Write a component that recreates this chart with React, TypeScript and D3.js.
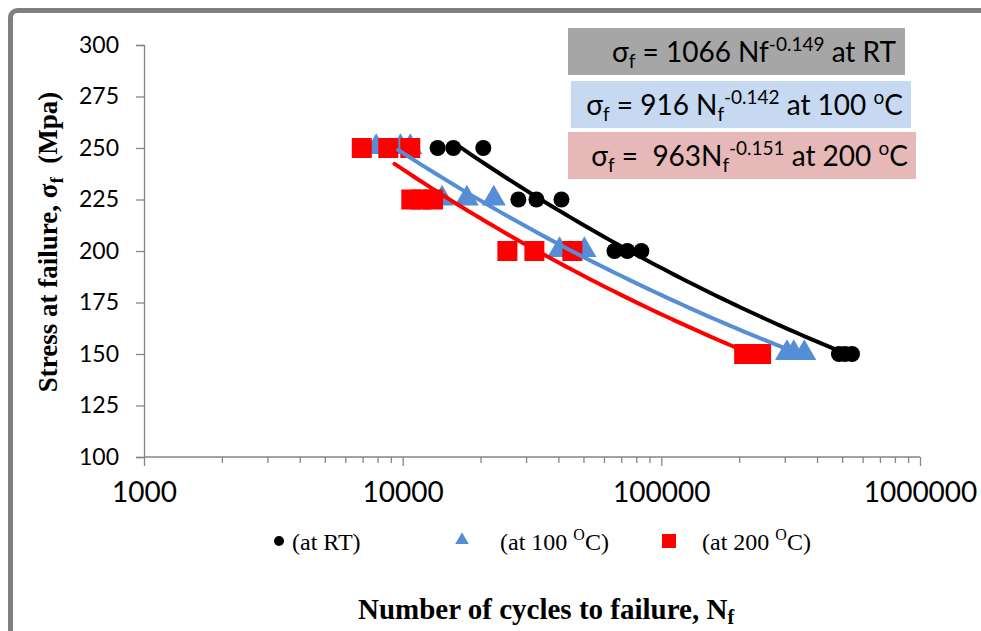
import * as d3 from 'd3';
import React, { useEffect, useRef } from 'react';

// stress levels (MPa) and cycles to failure
const rtStress = [250, 250, 250, 225, 225, 225, 200, 200, 200, 150, 150, 150];
const rtCycles = [13650, 15700, 20500, 28000, 32900, 41100, 65900, 73900, 83700, 486000, 513000, 546000];

const c100Stress = [250, 250, 250, 225, 225, 225, 200, 200, 150, 150, 150];
const c100Cycles = [7900, 9800, 10700, 14200, 17700, 22500, 40400, 50400, 306000, 325000, 357000];

const c200Stress = [250, 250, 250, 225, 225, 225, 200, 200, 200, 150, 150, 150];
const c200Cycles = [6950, 8800, 10700, 10800, 11800, 13100, 25400, 32300, 45300, 209000, 223000, 243000];

// power-law fits shown in the boxes: sigma = A * N^b, drawn over [from, to]
const fits = [
  { name: 'RT', A: 1066, b: -0.149, from: 16800, to: 546000, color: '#000000' },
  { name: '100', A: 916, b: -0.142, from: 9600, to: 357000, color: '#558ED5' },
  { name: '200', A: 963, b: -0.151, from: 9300, to: 243000, color: '#FF0000' },
];

const yTicks = [100, 125, 150, 175, 200, 225, 250, 275, 300];
const xMajor = [1000, 10000, 100000, 1000000];

export default function App() {
  const yAxisRef = useRef<SVGGElement>(null);
  const xMinorRef = useRef<SVGGElement>(null);
  const xMajorRef = useRef<SVGGElement>(null);

  const x = d3.scaleLog().domain([1000, 1000000]).range([144, 920]);
  const y = d3.scaleLinear().domain([100, 300]).range([457, 45]);

  useEffect(() => {
    document.body.style.margin = '0';
    const axisColor = '#868686';

    const ya = d3.select(yAxisRef.current!);
    ya.call(d3.axisLeft(y).tickValues(yTicks).tickSize(8).tickPadding(17).tickFormat(d3.format('d')) as any);
    ya.select('.domain').attr('stroke', axisColor).attr('stroke-width', 1.3);
    ya.selectAll('.tick line').attr('stroke', axisColor).attr('stroke-width', 1.3);
    ya.selectAll('.tick text')
      .attr('font-family', 'Lato, sans-serif')
      .attr('font-size', 23)
      .attr('fill', '#000');

    const minor: number[] = [];
    for (const dec of [1000, 10000, 100000]) {
      for (let k = 2; k <= 9; k++) minor.push(dec * k);
    }
    const xm = d3.select(xMinorRef.current!);
    xm.call(d3.axisBottom(x).tickValues(minor).tickSize(6).tickFormat(() => '') as any);
    xm.select('.domain').remove();
    xm.selectAll('.tick line').attr('stroke', axisColor).attr('stroke-width', 1.3);

    const xa = d3.select(xMajorRef.current!);
    xa.call(d3.axisBottom(x).tickValues(xMajor).tickSize(9).tickPadding(16).tickFormat(d3.format('d')) as any);
    xa.select('.domain').attr('stroke', axisColor).attr('stroke-width', 1.3).attr('d', `M${x(1000)},0H${x(1000000)}`);
    xa.selectAll('.tick line').attr('stroke', axisColor).attr('stroke-width', 1.3);
    xa.selectAll('.tick text')
      .attr('font-family', 'Lato, sans-serif')
      .attr('font-size', 28)
      .attr('fill', '#000');
  }, []);

  const fitPath = (f: typeof fits[number]) => {
    const ns = d3.range(0, 61).map(i => f.from * Math.pow(f.to / f.from, i / 60));
    return d3.line<number>()
      .x(n => x(n))
      .y(n => y(f.A * Math.pow(n, f.b)))(ns) || '';
  };

  const tri = d3.symbol().type(d3.symbolTriangle).size(250)() || '';
  const triSmall = d3.symbol().type(d3.symbolTriangle).size(80)() || '';
  const sq = 20;

  const eqFont = 'Lato, "Open Sans", sans-serif';
  const serif = '"Liberation Serif", "Times New Roman", serif';

  return (
    <svg width={981} height={631} style={{ display: 'block', background: '#fff' }}>
      {/* outer frame */}
      <rect x={10.5} y={10.5} width={1000} height={700} rx={7} fill="none" stroke="#808080" strokeWidth={5} />

      <g ref={yAxisRef} transform={`translate(${x(1000)},0)`} />
      <g ref={xMinorRef} transform={`translate(0,${y(100)})`} />
      <g ref={xMajorRef} transform={`translate(0,${y(100)})`} />

      {/* markers */}
      {rtCycles.map((n, i) => (
        <circle key={'rt' + i} cx={x(n)} cy={y(rtStress[i])} r={8} fill="#000" />
      ))}
      {c100Cycles.map((n, i) => (
        <path key={'c1' + i} d={tri} transform={`translate(${x(n)},${y(c100Stress[i]) - 1})`} fill="#558ED5" />
      ))}
      {c200Cycles.map((n, i) => (
        <rect key={'c2' + i} x={x(n) - sq / 2} y={y(c200Stress[i]) - sq / 2} width={sq} height={sq} fill="#FF0000" />
      ))}

      {/* trend lines */}
      {fits.map(f => (
        <path key={f.name} d={fitPath(f)} fill="none" stroke={f.color} strokeWidth={4} strokeLinecap="round" />
      ))}

      {/* equation boxes */}
      <rect x={568} y={28} width={337} height={47} fill="#A6A6A6" />
      <text x={896} y={62} textAnchor="end" fontFamily={eqFont} fontSize={28} fill="#000">
        σ<tspan fontSize={19} dy={6}>f</tspan>
        <tspan dy={-6}> = 1066 Nf</tspan>
        <tspan fontSize={19} dy={-11}>-0.149</tspan>
        <tspan dy={11}> at RT</tspan>
      </text>
      <rect x={571} y={81} width={340} height={47} fill="#C6D9F1" />
      <text x={903} y={115} textAnchor="end" fontFamily={eqFont} fontSize={28} fill="#000">
        σ<tspan fontSize={19} dy={6}>f</tspan>
        <tspan dy={-6}> = 916 N</tspan>
        <tspan fontSize={19} dy={6}>f</tspan>
        <tspan fontSize={19} dy={-17}>-0.142</tspan>
        <tspan dy={11}> at 100 </tspan>
        <tspan fontSize={19} dy={-11}>o</tspan>
        <tspan dy={11}>C</tspan>
      </text>
      <rect x={568} y={132} width={348} height={47} fill="#E6B9B8" />
      <text x={908} y={166} textAnchor="end" fontFamily={eqFont} fontSize={28} fill="#000" style={{ whiteSpace: 'pre' }}>
        σ<tspan fontSize={19} dy={6}>f</tspan>
        <tspan dy={-6}>{' =  963N'}</tspan>
        <tspan fontSize={19} dy={6}>f</tspan>
        <tspan fontSize={19} dy={-17}>-0.151</tspan>
        <tspan dy={11}> at 200 </tspan>
        <tspan fontSize={19} dy={-11}>o</tspan>
        <tspan dy={11}>C</tspan>
      </text>

      {/* legend */}
      <circle cx={279} cy={541} r={5} fill="#000" />
      <text x={292} y={550} fontFamily={serif} fontSize={24} fill="#000">(at RT)</text>
      <path d={triSmall} transform="translate(462,540)" fill="#558ED5" />
      <text x={500} y={550} fontFamily={serif} fontSize={24} fill="#000">
        (at 100 <tspan fontSize={16} dy={-10}>O</tspan><tspan dy={10}>C)</tspan>
      </text>
      <rect x={662} y={534} width={14} height={14} fill="#FF0000" />
      <text x={702} y={550} fontFamily={serif} fontSize={24} fill="#000">
        (at 200 <tspan fontSize={16} dy={-10}>O</tspan><tspan dy={10}>C)</tspan>
      </text>

      {/* axis titles */}
      <text x={546} y={619} textAnchor="middle" fontFamily={serif} fontWeight="bold" fontSize={29} fill="#000">
        Number of cycles to failure, N<tspan fontSize={20} dy={5}>f</tspan>
      </text>
      <text transform="translate(57,242) rotate(-90)" textAnchor="middle" fontFamily={serif} fontWeight="bold" fontSize={27} fill="#000" style={{ whiteSpace: 'pre' }}>
        {'Stress at failure, σ'}<tspan fontSize={19} dy={6}>f</tspan><tspan dy={-6}>{'  (Mpa)'}</tspan>
      </text>
    </svg>
  );
}
